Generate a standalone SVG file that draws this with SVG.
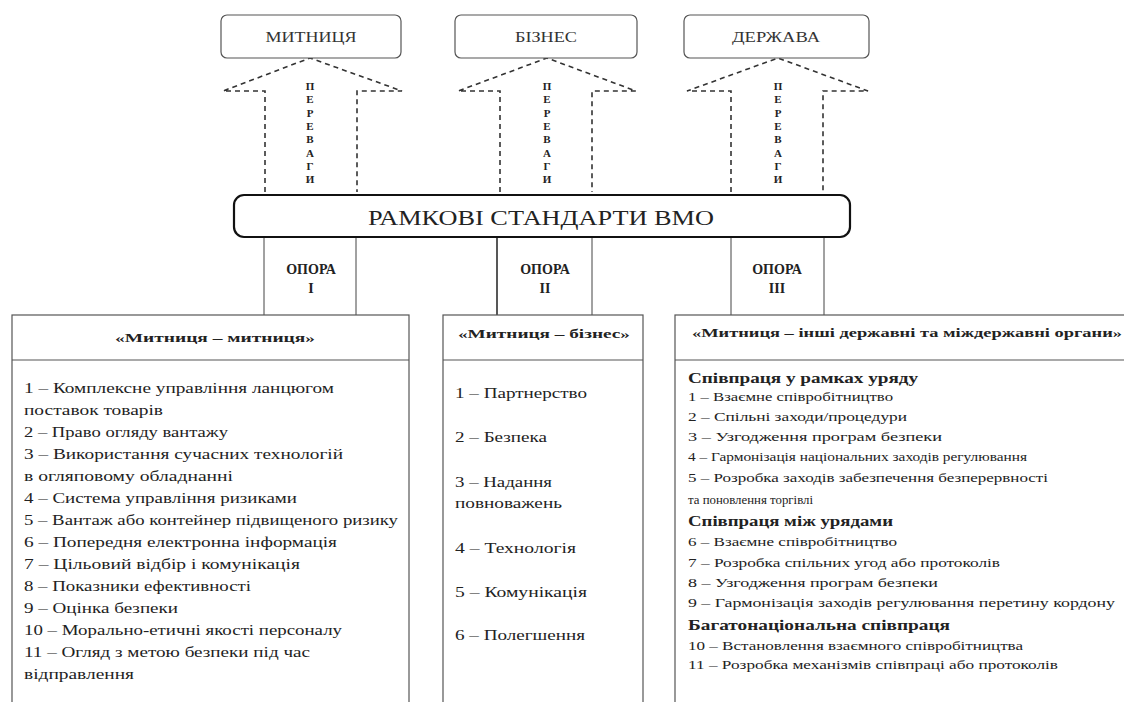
<svg xmlns="http://www.w3.org/2000/svg" width="1124" height="702" viewBox="0 0 1124 702" font-family="Liberation Serif, Times New Roman, serif">
<style>
  text { font-family: 'Liberation Serif', 'Times New Roman', 'DejaVu Serif', serif; fill: #222; }
  .top { font-size: 15px; text-anchor: middle; fill: #333; }
  .topbox { fill: #fff; stroke: #555; stroke-width: 1.2; }
  .dash { fill: none; stroke: #333; stroke-width: 1.6; stroke-dasharray: 5 4; }
  .vert { font-size: 11px; font-weight: bold; text-anchor: middle; }
  .main { fill: #fff; stroke: #111; stroke-width: 2.2; }
  .pillar { stroke: #444; stroke-width: 1; fill: none; }
  .op { font-size: 14px; font-weight: bold; text-anchor: middle; }
  .box { fill: #fff; stroke: #555; stroke-width: 1.2; }
  .hdr { font-size: 13.5px; font-weight: bold; }
  .it1 { font-size: 15px; }
  .it3 { font-size: 12.5px; }
  .sub { font-size: 15px; font-weight: bold; }
</style>

<g id="connectors">
  <path class="dash" d="M265,192 V91 H223 L310,58 L402,91 H357 V192"/>
  <path class="dash" d="M500,192 V91 H458 L547,58 L636,91 H592 V192"/>
  <path class="dash" d="M731,192 V91 H687 L778,58 L868,91 H823 V192"/>
  <path class="pillar" d="M264,237 V315 M356,237 V315"/>
  <path class="pillar" d="M497,237 V315" style="stroke:#111;stroke-width:1.4"/>
  <path class="pillar" d="M592,237 V315"/>
  <path class="pillar" d="M731,237 V315 M824,237 V315"/>
</g>

<g id="node-mytnytsia">
  <rect class="topbox" x="221" y="15" width="180" height="43" rx="6"/>
  <text class="top" x="311" y="42" textLength="91" lengthAdjust="spacingAndGlyphs">МИТНИЦЯ</text>
</g>
<g id="node-biznes">
  <rect class="topbox" x="455" y="15" width="182" height="43" rx="6"/>
  <text class="top" x="546" y="42" textLength="62" lengthAdjust="spacingAndGlyphs">БІЗНЕС</text>
</g>
<g id="node-derzhava">
  <rect class="topbox" x="684" y="15" width="185" height="43" rx="6"/>
  <text class="top" x="776" y="42" textLength="88" lengthAdjust="spacingAndGlyphs">ДЕРЖАВА</text>
</g>

<g id="label-perevagy-1">
  <text class="vert" x="310" y="90"><tspan x="310">П</tspan><tspan x="310" dy="13.3">Е</tspan><tspan x="310" dy="13.3">Р</tspan><tspan x="310" dy="13.3">Е</tspan><tspan x="310" dy="13.3">В</tspan><tspan x="310" dy="13.3">А</tspan><tspan x="310" dy="13.3">Г</tspan><tspan x="310" dy="13.3">И</tspan></text>
</g>
<g id="label-perevagy-2">
  <text class="vert" x="547" y="90"><tspan x="547">П</tspan><tspan x="547" dy="13.3">Е</tspan><tspan x="547" dy="13.3">Р</tspan><tspan x="547" dy="13.3">Е</tspan><tspan x="547" dy="13.3">В</tspan><tspan x="547" dy="13.3">А</tspan><tspan x="547" dy="13.3">Г</tspan><tspan x="547" dy="13.3">И</tspan></text>
</g>
<g id="label-perevagy-3">
  <text class="vert" x="778" y="90"><tspan x="778">П</tspan><tspan x="778" dy="13.3">Е</tspan><tspan x="778" dy="13.3">Р</tspan><tspan x="778" dy="13.3">Е</tspan><tspan x="778" dy="13.3">В</tspan><tspan x="778" dy="13.3">А</tspan><tspan x="778" dy="13.3">Г</tspan><tspan x="778" dy="13.3">И</tspan></text>
</g>

<g id="node-ramkovi">
  <rect class="main" x="234" y="195" width="616" height="42" rx="10"/>
  <text x="541" y="225" font-size="21" text-anchor="middle" textLength="346" lengthAdjust="spacingAndGlyphs">РАМКОВІ СТАНДАРТИ ВМО</text>
</g>

<g id="label-opora-1">
  <text class="op" x="311" y="274">ОПОРА</text>
  <text class="op" x="311" y="293">І</text>
</g>
<g id="label-opora-2">
  <text class="op" x="545" y="274">ОПОРА</text>
  <text class="op" x="545" y="293">ІІ</text>
</g>
<g id="label-opora-3">
  <text class="op" x="777" y="274">ОПОРА</text>
  <text class="op" x="777" y="293">ІІІ</text>
</g>

<g id="node-customs-customs">
  <rect class="box" x="12" y="315" width="397" height="400"/>
  <line x1="12" y1="360" x2="409" y2="360" stroke="#555" stroke-width="1.2"/>
  <text class="hdr" x="215" y="342" text-anchor="middle" textLength="200" lengthAdjust="spacingAndGlyphs">«Митниця – митниця»</text>
  <g class="it1">
    <text x="24" y="393" textLength="310" lengthAdjust="spacingAndGlyphs">1 – Комплексне управління ланцюгом</text>
    <text x="24" y="415" textLength="139" lengthAdjust="spacingAndGlyphs">поставок товарів</text>
    <text x="24" y="437" textLength="204" lengthAdjust="spacingAndGlyphs">2 – Право огляду вантажу</text>
    <text x="24" y="459" textLength="319" lengthAdjust="spacingAndGlyphs">3 – Використання сучасних технологій</text>
    <text x="24" y="481" textLength="209" lengthAdjust="spacingAndGlyphs">в огляповому обладнанні</text>
    <text x="24" y="503" textLength="273" lengthAdjust="spacingAndGlyphs">4 – Система управління ризиками</text>
    <text x="24" y="525" textLength="374" lengthAdjust="spacingAndGlyphs">5 – Вантаж або контейнер підвищеного ризику</text>
    <text x="24" y="547" textLength="313" lengthAdjust="spacingAndGlyphs">6 – Попередня електронна інформація</text>
    <text x="24" y="569" textLength="276" lengthAdjust="spacingAndGlyphs">7 – Цільовий відбір і комунікація</text>
    <text x="24" y="591" textLength="227" lengthAdjust="spacingAndGlyphs">8 – Показники ефективності</text>
    <text x="24" y="613" textLength="154" lengthAdjust="spacingAndGlyphs">9 – Оцінка безпеки</text>
    <text x="24" y="635" textLength="318" lengthAdjust="spacingAndGlyphs">10 – Морально-етичні якості персоналу</text>
    <text x="24" y="657" textLength="286" lengthAdjust="spacingAndGlyphs">11 – Огляд з метою безпеки під час</text>
    <text x="24" y="679" textLength="110" lengthAdjust="spacingAndGlyphs">відправлення</text>
  </g>
</g>

<g id="node-customs-business">
  <rect class="box" x="443" y="315" width="200" height="400"/>
  <line x1="443" y1="360" x2="643" y2="360" stroke="#555" stroke-width="1.2"/>
  <text class="hdr" x="544" y="338" text-anchor="middle" textLength="172" lengthAdjust="spacingAndGlyphs">«Митниця – бізнес»</text>
  <g class="it1">
    <text x="455" y="398" textLength="132" lengthAdjust="spacingAndGlyphs">1 – Партнерство</text>
    <text x="455" y="442" textLength="92" lengthAdjust="spacingAndGlyphs">2 – Безпека</text>
    <text x="455" y="487" textLength="97" lengthAdjust="spacingAndGlyphs">3 – Надання</text>
    <text x="455" y="508" textLength="107" lengthAdjust="spacingAndGlyphs">повноважень</text>
    <text x="455" y="553" textLength="121" lengthAdjust="spacingAndGlyphs">4 – Технологія</text>
    <text x="455" y="597" textLength="132" lengthAdjust="spacingAndGlyphs">5 – Комунікація</text>
    <text x="455" y="640" textLength="130" lengthAdjust="spacingAndGlyphs">6 – Полегшення</text>
  </g>
</g>

<g id="node-customs-government">
  <rect class="box" x="675" y="315" width="460" height="400"/>
  <line x1="675" y1="360" x2="1124" y2="360" stroke="#555" stroke-width="1.2"/>
  <text class="hdr" x="692" y="337" textLength="430" lengthAdjust="spacingAndGlyphs">«Митниця – інші державні та міждержавні органи»</text>
  <text class="sub" x="688" y="383" textLength="230" lengthAdjust="spacingAndGlyphs">Співпраця у рамках уряду</text>
  <g class="it3">
    <text x="688" y="401" textLength="205" lengthAdjust="spacingAndGlyphs">1 – Взаємне співробітництво</text>
    <text x="688" y="421" textLength="219" lengthAdjust="spacingAndGlyphs">2 – Спільні заходи/процедури</text>
    <text x="688" y="441" textLength="254" lengthAdjust="spacingAndGlyphs">3 – Узгодження програм безпеки</text>
    <text x="688" y="461" textLength="339" lengthAdjust="spacingAndGlyphs">4 – Гармонізація національних заходів регулювання</text>
    <text x="688" y="482" textLength="360" lengthAdjust="spacingAndGlyphs">5 – Розробка заходів забезпечення  безперервності</text>
    <text x="688" y="504" textLength="125" lengthAdjust="spacingAndGlyphs">та поновлення  торгівлі</text>
  </g>
  <text class="sub" x="688" y="526" textLength="205" lengthAdjust="spacingAndGlyphs">Співпраця між урядами</text>
  <g class="it3">
    <text x="688" y="546" textLength="209" lengthAdjust="spacingAndGlyphs">6 – Взаємне співробітництво</text>
    <text x="688" y="567" textLength="312" lengthAdjust="spacingAndGlyphs">7 – Розробка спільних угод або протоколів</text>
    <text x="688" y="587" textLength="250" lengthAdjust="spacingAndGlyphs">8 – Узгодження програм безпеки</text>
    <text x="688" y="607" textLength="427" lengthAdjust="spacingAndGlyphs">9 – Гармонізація заходів регулювання перетину кордону</text>
  </g>
  <text class="sub" x="688" y="630" textLength="262" lengthAdjust="spacingAndGlyphs">Багатонаціональна співпраця</text>
  <g class="it3">
    <text x="688" y="650" textLength="335" lengthAdjust="spacingAndGlyphs">10 – Встановлення взаємного співробітництва</text>
    <text x="688" y="669" textLength="370" lengthAdjust="spacingAndGlyphs">11 – Розробка механізмів співпраці або протоколів</text>
  </g>
</g>
</svg>
